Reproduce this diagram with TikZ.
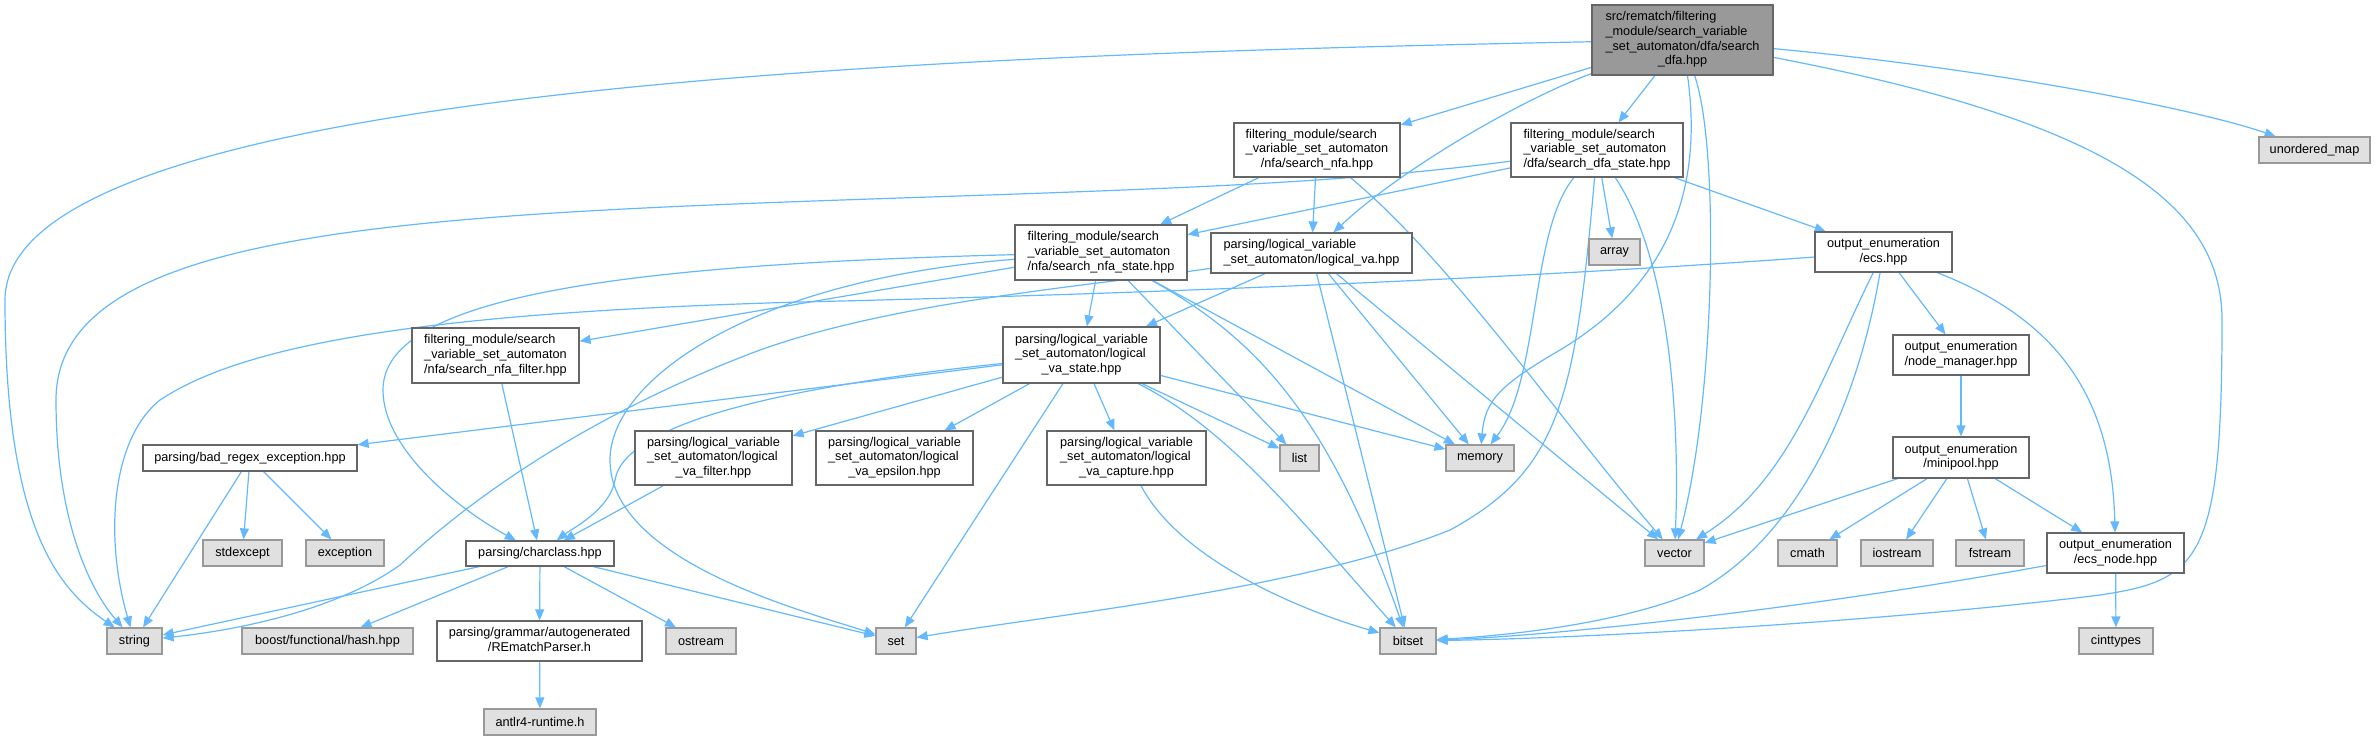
\documentclass[tikz,border=0pt]{standalone}
\usepackage{fontspec}
\setmainfont{Liberation Sans}
\usepackage{tikz}
\usetikzlibrary{arrows.meta,backgrounds}
\definecolor{edgeBlue}{RGB}{99,184,255}
\definecolor{fileGray}{RGB}{102,102,102}
\definecolor{sysGray}{RGB}{153,153,153}
\definecolor{sysFill}{RGB}{224,224,224}
\definecolor{mainFill}{RGB}{153,153,153}
\newcommand{\fl}[1]{\begin{tabular}{@{}l@{}}#1\end{tabular}}
\newcommand{\lastln}[1]{\multicolumn{1}{@{}c@{}}{#1}}
\tikzset{
  wh/.style 2 args={minimum width=#1*0.5pt, minimum height=#2*0.5pt},
  hfile/.style={draw=fileGray, fill=white, line width=0.6pt, inner sep=0pt,
    font=\fontsize{6.35pt}{7.35pt}\selectfont},
  sysfile/.style={hfile, draw=sysGray, fill=sysFill},
  mainfile/.style={hfile, fill=mainFill},
  edge/.style={draw=edgeBlue, line width=0.6pt, -{Triangle[length=5.5pt,width=4.5pt]}}
}

\begin{document}
\begin{tikzpicture}[x=0.5pt, y=-0.5pt]
\useasboundingbox (0,0) rectangle (2375,740);

\node[mainfile, wh={181}{70}] (main) at (1682.5,40) {\fl{src/rematch/filtering\\\_module/search\_variable\\\_set\_automaton/dfa/search\\\lastln{\_dfa.hpp}}};
\node[hfile, wh={166}{54}] (nfa) at (1317,150) {\fl{filtering\_module/search\\\_variable\_set\_automaton\\\lastln{/nfa/search\_nfa.hpp}}};
\node[hfile, wh={172}{54}] (dfast) at (1597,150) {\fl{filtering\_module/search\\\_variable\_set\_automaton\\\lastln{/dfa/search\_dfa\_state.hpp}}};
\node[sysfile, wh={111}{26}] (umap) at (2314.5,150) {unordered\_map};
\node[hfile, wh={172}{55}] (nfast) at (1101,252.5) {\fl{filtering\_module/search\\\_variable\_set\_automaton\\\lastln{/nfa/search\_nfa\_state.hpp}}};
\node[hfile, wh={201}{40}] (lva) at (1311.5,253) {\fl{parsing/logical\_variable\\\lastln{\_set\_automaton/logical\_va.hpp}}};
\node[sysfile, wh={51}{26}] (array) at (1614.5,252) {array};
\node[hfile, wh={137}{40}] (ecs) at (1883.5,252) {\fl{output\_enumeration\\\lastln{/ecs.hpp}}};
\node[hfile, wh={167}{55}] (nfafilt) at (495.5,355.5) {\fl{filtering\_module/search\\\_variable\_set\_automaton\\\lastln{/nfa/search\_nfa\_filter.hpp}}};
\node[hfile, wh={157}{56}] (lvast) at (1081.5,355) {\fl{parsing/logical\_variable\\\_set\_automaton/logical\\\lastln{\_va\_state.hpp}}};
\node[hfile, wh={136}{40}] (nodemgr) at (1961,355) {\fl{output\_enumeration\\\lastln{/node\_manager.hpp}}};
\node[hfile, wh={214}{26}] (badre) at (250,458) {parsing/bad\_regex\_exception.hpp};
\node[hfile, wh={157}{54}] (lvafilt) at (713.5,458) {\fl{parsing/logical\_variable\\\_set\_automaton/logical\\\lastln{\_va\_filter.hpp}}};
\node[hfile, wh={157}{54}] (lvaeps) at (894.5,458) {\fl{parsing/logical\_variable\\\_set\_automaton/logical\\\lastln{\_va\_epsilon.hpp}}};
\node[hfile, wh={159}{54}] (lvacap) at (1126.5,458) {\fl{parsing/logical\_variable\\\_set\_automaton/logical\\\lastln{\_va\_capture.hpp}}};
\node[sysfile, wh={39}{26}] (list) at (1299.5,458) {list};
\node[sysfile, wh={68}{26}] (memory) at (1480,458) {memory};
\node[hfile, wh={136}{41}] (minipool) at (1961,457.5) {\fl{output\_enumeration\\\lastln{/minipool.hpp}}};
\node[sysfile, wh={79}{26}] (stdexc) at (242.5,553) {stdexcept};
\node[sysfile, wh={78}{26}] (except) at (345,553) {exception};
\node[hfile, wh={148}{25}] (charclass) at (540,553.5) {parsing/charclass.hpp};
\node[sysfile, wh={59}{26}] (vector) at (1674.5,553) {vector};
\node[sysfile, wh={59}{26}] (cmath) at (1807.5,553) {cmath};
\node[sysfile, wh={72}{26}] (iostream) at (1897,553) {iostream};
\node[sysfile, wh={68}{26}] (fstream) at (1990,553) {fstream};
\node[hfile, wh={137}{40}] (ecsnode) at (2115.5,553) {\fl{output\_enumeration\\\lastln{/ecs\_node.hpp}}};
\node[sysfile, wh={55}{26}] (string) at (134.5,641) {string};
\node[sysfile, wh={171}{26}] (hash) at (327.5,641) {boost/functional/hash.hpp};
\node[hfile, wh={205}{40}] (remparser) at (539.5,641) {\fl{parsing/grammar/autogenerated\\\lastln{/REmatchParser.h}}};
\node[sysfile, wh={70}{26}] (ostream) at (701,641) {ostream};
\node[sysfile, wh={40}{26}] (set) at (896,641) {set};
\node[sysfile, wh={56}{26}] (bitset) at (1408,641) {bitset};
\node[sysfile, wh={74}{26}] (cinttypes) at (2116,641) {cinttypes};
\node[sysfile, wh={112}{26}] (antlr) at (540,722) {antlr4-runtime.h};

\begin{scope}[on background layer]
\draw[edge] (main) .. controls (900,55) and (5,90) .. (5,300) .. controls (5,530) and (60,590) .. (string);
\draw[edge] (main) -- (nfa);
\draw[edge] (main) .. controls (1520,100) and (1400,170) .. (lva);
\draw[edge] (main) -- (dfast);
\draw[edge] (main) .. controls (1705,200) and (1660,290) .. (1560,350) .. controls (1500,385) and (1485,400) .. (memory);
\draw[edge] (main) .. controls (1720,150) and (1715,400) .. (vector);
\draw[edge] (main) .. controls (2100,120) and (2222,200) .. (2222,320) .. controls (2222,560) and (2200,580) .. (2100,595) .. controls (1900,620) and (1600,638) .. (bitset);
\draw[edge] (main) .. controls (2000,70) and (2200,110) .. (umap);
\draw[edge] (nfa) -- (nfast);
\draw[edge] (nfa) -- (lva);
\draw[edge] (nfa) .. controls (1450,260) and (1560,420) .. (vector);
\draw[edge] (dfast) -- (nfast);
\draw[edge] (dfast) .. controls (1350,182) and (1200,188) .. (900,198) .. controls (400,215) and (56,230) .. (56,400) .. controls (56,520) and (90,590) .. (string);
\draw[edge] (dfast) .. controls (1530,230) and (1540,380) .. (memory);
\draw[edge] (dfast) -- (array);
\draw[edge] (dfast) .. controls (1670,260) and (1680,420) .. (vector);
\draw[edge] (dfast) .. controls (1575,400) and (1560,470) .. (1450,530) .. controls (1300,590) and (1050,615) .. (set);
\draw[edge] (dfast) -- (ecs);
\draw[edge] (nfast) -- (nfafilt);
\draw[edge] (nfast) -- (lvast);
\draw[edge] (nfast) .. controls (600,265) and (383,300) .. (383,390) .. controls (383,450) and (460,510) .. (charclass);
\draw[edge] (nfast) .. controls (750,280) and (610,380) .. (610,460) .. controls (610,560) and (800,610) .. (set);
\draw[edge] (nfast) -- (list);
\draw[edge] (nfast) -- (memory);
\draw[edge] (nfast) .. controls (1260,340) and (1330,420) .. (bitset);
\draw[edge] (lva) -- (lvast);
\draw[edge] (lva) .. controls (1100,285) and (900,300) .. (760,350) .. controls (600,410) and (480,490) .. (400,565) .. controls (330,615) and (220,632) .. (string);
\draw[edge] (lva) -- (memory);
\draw[edge] (lva) -- (bitset);
\draw[edge] (lva) -- (vector);
\draw[edge] (ecs) .. controls (1500,280) and (1100,295) .. (800,302) .. controls (450,312) and (250,340) .. (160,400) .. controls (110,440) and (105,540) .. (string);
\draw[edge] (ecs) .. controls (1820,380) and (1790,480) .. (vector);
\draw[edge] (ecs) .. controls (1855,420) and (1790,540) .. (1700,590) .. controls (1620,625) and (1500,636) .. (bitset);
\draw[edge] (ecs) -- (nodemgr);
\draw[edge] (ecs) .. controls (2060,320) and (2112,400) .. (ecsnode);
\draw[edge] (nfafilt) -- (charclass);
\draw[edge] (lvast) -- (badre);
\draw[edge] (lvast) -- (lvafilt);
\draw[edge] (lvast) -- (lvaeps);
\draw[edge] (lvast) -- (lvacap);
\draw[edge] (lvast) .. controls (800,385) and (625,420) .. (615,480) .. controls (610,510) and (570,530) .. (charclass);
\draw[edge] (lvast) -- (set);
\draw[edge] (lvast) -- (list);
\draw[edge] (lvast) -- (memory);
\draw[edge] (lvast) .. controls (1230,430) and (1300,520) .. (bitset);
\draw[edge] (nodemgr) -- (minipool);
\draw[edge] (minipool) -- (vector);
\draw[edge] (minipool) -- (cmath);
\draw[edge] (minipool) -- (iostream);
\draw[edge] (minipool) -- (fstream);
\draw[edge] (minipool) -- (ecsnode);
\draw[edge] (ecsnode) .. controls (1800,610) and (1550,636) .. (bitset);
\draw[edge] (ecsnode) -- (cinttypes);
\draw[edge] (badre) -- (string);
\draw[edge] (badre) -- (stdexc);
\draw[edge] (badre) -- (except);
\draw[edge] (lvafilt) -- (charclass);
\draw[edge] (lvacap) .. controls (1180,560) and (1300,610) .. (bitset);
\draw[edge] (charclass) -- (string);
\draw[edge] (charclass) -- (hash);
\draw[edge] (charclass) -- (remparser);
\draw[edge] (charclass) -- (ostream);
\draw[edge] (charclass) -- (set);
\draw[edge] (remparser) -- (antlr);
\end{scope}
\end{tikzpicture}
\end{document}
